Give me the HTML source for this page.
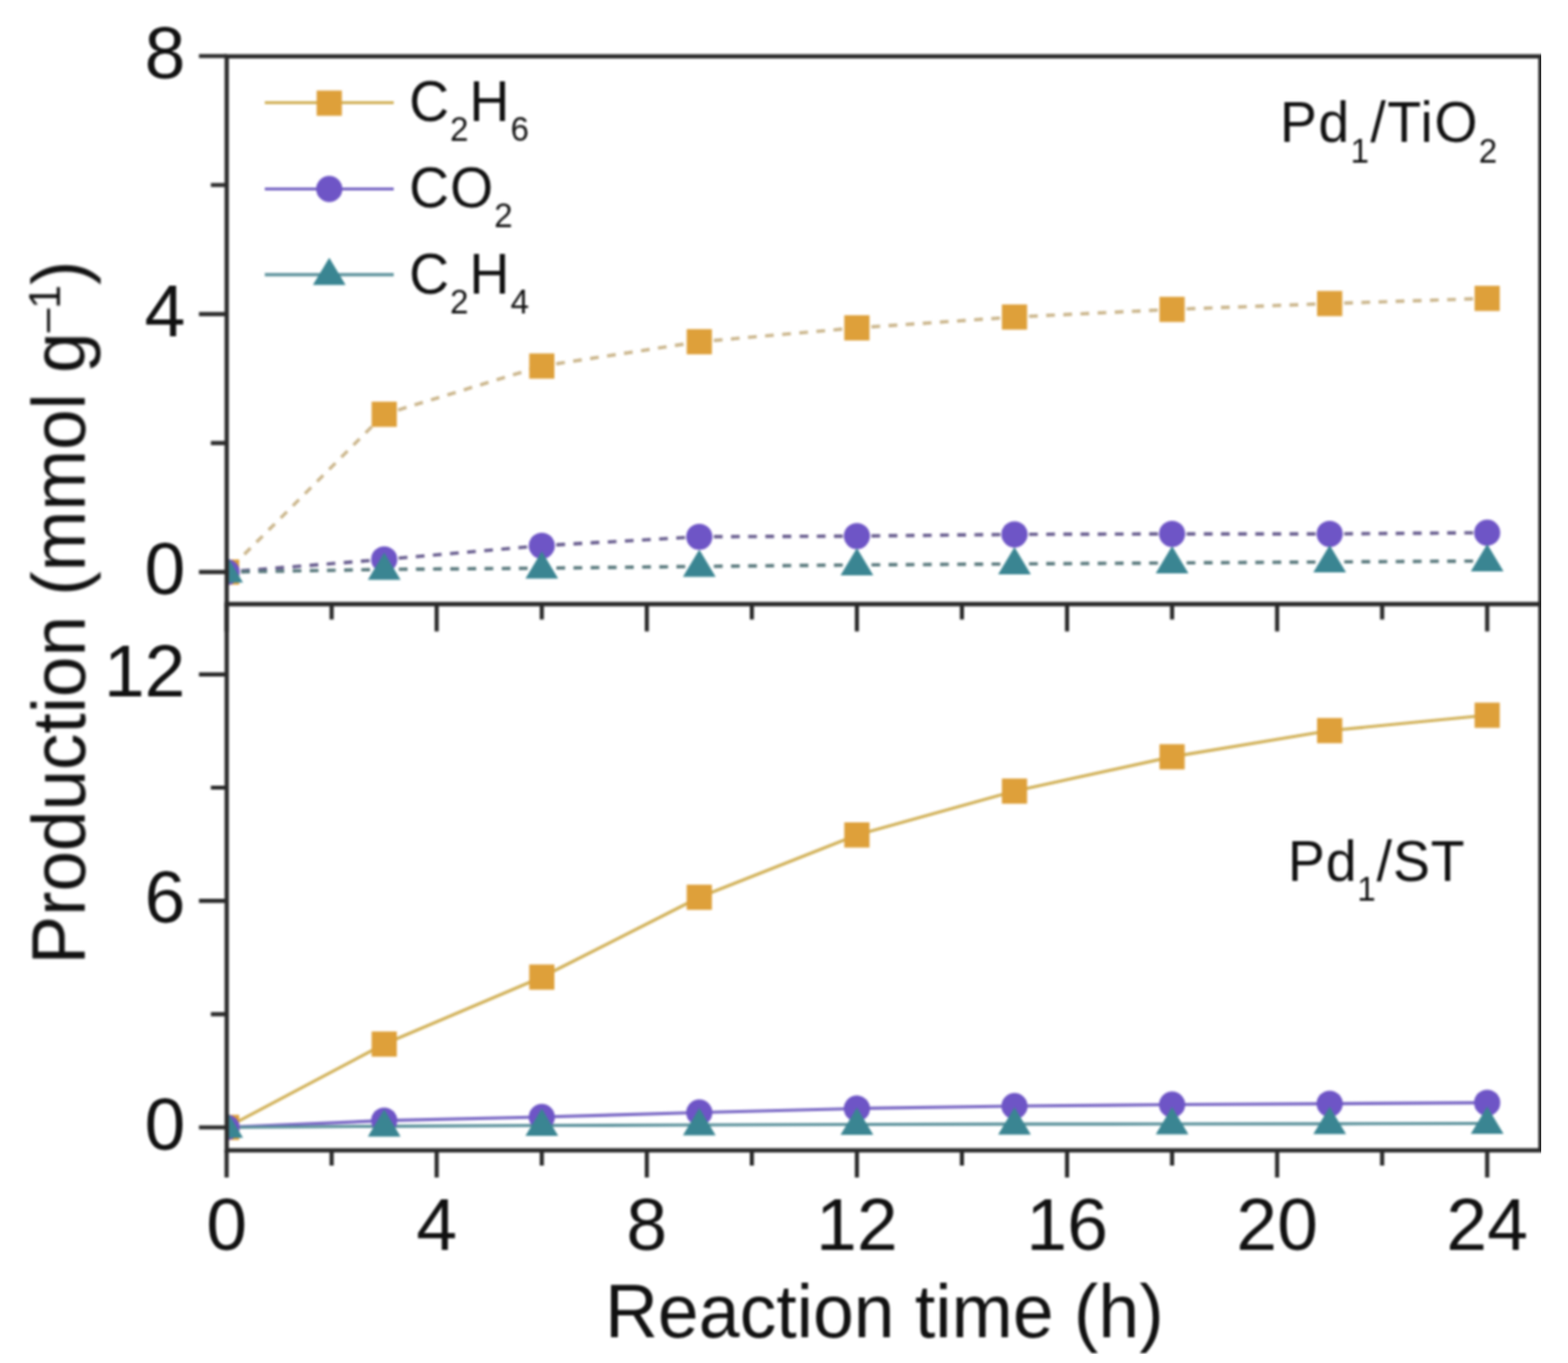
<!DOCTYPE html>
<html><head><meta charset="utf-8"><title>Production vs reaction time</title>
<style>
html,body{margin:0;padding:0;background:#fff;}
body{width:1581px;height:1374px;overflow:hidden;}
svg{display:block;}
text{font-family:"Liberation Sans",Arial,Helvetica,sans-serif;fill:#111;}
</style></head><body>
<svg width="1581" height="1374" viewBox="0 0 1581 1374">
<defs>
<filter id="soft" x="0" y="0" width="1" height="1" color-interpolation-filters="sRGB"><feGaussianBlur stdDeviation="0.8"/></filter>
<clipPath id="cu"><rect x="230.5" y="58" width="1320" height="549"/></clipPath>
<clipPath id="cl"><rect x="230.5" y="610" width="1320" height="547"/></clipPath>
</defs>
<rect width="1581" height="1374" fill="#fff"/>
<g filter="url(#soft)">

<g clip-path="url(#cu)">
<g stroke="#CBB68C" stroke-width="3.4" stroke-dasharray="8.8 8.5"><line x1="228.5" y1="576.7" x2="387.4" y2="417.6" stroke-dashoffset="9.3"/><line x1="387.4" y1="417.6" x2="546.3" y2="369" stroke-dashoffset="2.6"/><line x1="546.3" y1="369" x2="705.1" y2="344.5" stroke-dashoffset="2.6"/><line x1="705.1" y1="344.5" x2="864" y2="330.5" stroke-dashoffset="2.6"/><line x1="864" y1="330.5" x2="1022.9" y2="319.6" stroke-dashoffset="2.6"/><line x1="1022.9" y1="319.6" x2="1181.8" y2="311.9" stroke-dashoffset="2.6"/><line x1="1181.8" y1="311.9" x2="1340.7" y2="306" stroke-dashoffset="2.6"/><line x1="1340.7" y1="306" x2="1499.5" y2="300.8" stroke-dashoffset="2.6"/></g>
<g stroke="#675C8E" stroke-width="3.4" stroke-dasharray="8.8 8.5"><line x1="228.5" y1="576.7" x2="387.4" y2="563.9" stroke-dashoffset="2.6"/><line x1="387.4" y1="563.9" x2="546.3" y2="550.1" stroke-dashoffset="2.6"/><line x1="546.3" y1="550.1" x2="705.1" y2="541.1" stroke-dashoffset="2.6"/><line x1="705.1" y1="541.1" x2="864" y2="540.4" stroke-dashoffset="2.6"/><line x1="864" y1="540.4" x2="1022.9" y2="538.7" stroke-dashoffset="2.6"/><line x1="1022.9" y1="538.7" x2="1181.8" y2="538.2" stroke-dashoffset="2.6"/><line x1="1181.8" y1="538.2" x2="1340.7" y2="538.2" stroke-dashoffset="2.6"/><line x1="1340.7" y1="538.2" x2="1499.5" y2="537" stroke-dashoffset="2.6"/></g>
<g stroke="#58787C" stroke-width="3.4" stroke-dasharray="8.8 8.5"><line x1="228.5" y1="576.7" x2="387.4" y2="574" stroke-dashoffset="2.6"/><line x1="387.4" y1="574" x2="546.3" y2="572.8" stroke-dashoffset="2.6"/><line x1="546.3" y1="572.8" x2="705.1" y2="571" stroke-dashoffset="2.6"/><line x1="705.1" y1="571" x2="864" y2="569.5" stroke-dashoffset="2.6"/><line x1="864" y1="569.5" x2="1022.9" y2="568.5" stroke-dashoffset="2.6"/><line x1="1022.9" y1="568.5" x2="1181.8" y2="567.5" stroke-dashoffset="2.6"/><line x1="1181.8" y1="567.5" x2="1340.7" y2="566.5" stroke-dashoffset="2.6"/><line x1="1340.7" y1="566.5" x2="1499.5" y2="565.5" stroke-dashoffset="2.6"/></g>
<rect x="215.8" y="564" width="25.4" height="25.4" fill="#DEA03A"/>
<rect x="374.7" y="404.9" width="25.4" height="25.4" fill="#DEA03A"/>
<rect x="533.6" y="356.3" width="25.4" height="25.4" fill="#DEA03A"/>
<rect x="692.4" y="331.8" width="25.4" height="25.4" fill="#DEA03A"/>
<rect x="851.3" y="317.8" width="25.4" height="25.4" fill="#DEA03A"/>
<rect x="1010.2" y="306.9" width="25.4" height="25.4" fill="#DEA03A"/>
<rect x="1169.1" y="299.2" width="25.4" height="25.4" fill="#DEA03A"/>
<rect x="1328" y="293.3" width="25.4" height="25.4" fill="#DEA03A"/>
<rect x="1486.8" y="288.1" width="25.4" height="25.4" fill="#DEA03A"/>
<circle cx="228.5" cy="576.7" r="13.2" fill="#6E55C6"/>
<circle cx="387.4" cy="563.9" r="13.2" fill="#6E55C6"/>
<circle cx="546.3" cy="550.1" r="13.2" fill="#6E55C6"/>
<circle cx="705.1" cy="541.1" r="13.2" fill="#6E55C6"/>
<circle cx="864" cy="540.4" r="13.2" fill="#6E55C6"/>
<circle cx="1022.9" cy="538.7" r="13.2" fill="#6E55C6"/>
<circle cx="1181.8" cy="538.2" r="13.2" fill="#6E55C6"/>
<circle cx="1340.7" cy="538.2" r="13.2" fill="#6E55C6"/>
<circle cx="1499.5" cy="537" r="13.2" fill="#6E55C6"/>
<polygon points="228.5,559.7 245,587.2 212,587.2" fill="#3A8592"/>
<polygon points="387.4,557 403.9,584.5 370.9,584.5" fill="#3A8592"/>
<polygon points="546.3,555.8 562.8,583.3 529.8,583.3" fill="#3A8592"/>
<polygon points="705.1,554 721.6,581.5 688.6,581.5" fill="#3A8592"/>
<polygon points="864,552.5 880.5,580 847.5,580" fill="#3A8592"/>
<polygon points="1022.9,551.5 1039.4,579 1006.4,579" fill="#3A8592"/>
<polygon points="1181.8,550.5 1198.3,578 1165.3,578" fill="#3A8592"/>
<polygon points="1340.7,549.5 1357.2,577 1324.2,577" fill="#3A8592"/>
<polygon points="1499.5,548.5 1516,576 1483,576" fill="#3A8592"/>
</g>
<g clip-path="url(#cl)">
<polyline points="228.5,1136.5 387.4,1052.5 546.3,985 705.1,904.5 864,841.7 1022.9,797.5 1181.8,762.9 1340.7,736.5 1499.5,721" fill="none" stroke="#D2B25A" stroke-width="3.2" stroke-linejoin="round"/>
<polyline points="228.5,1136.5 387.4,1129.6 546.3,1126 705.1,1121.5 864,1117.5 1022.9,1115 1181.8,1113.5 1340.7,1112.6 1499.5,1111.7" fill="none" stroke="#7866C4" stroke-width="3.2" stroke-linejoin="round"/>
<polyline points="228.5,1136.5 387.4,1135.3 546.3,1134.5 705.1,1134 864,1133.5 1022.9,1133.2 1181.8,1133 1340.7,1132.8 1499.5,1132.5" fill="none" stroke="#5C929C" stroke-width="3.2" stroke-linejoin="round"/>
<rect x="215.8" y="1123.8" width="25.4" height="25.4" fill="#DEA03A"/>
<rect x="374.7" y="1039.8" width="25.4" height="25.4" fill="#DEA03A"/>
<rect x="533.6" y="972.3" width="25.4" height="25.4" fill="#DEA03A"/>
<rect x="692.4" y="891.8" width="25.4" height="25.4" fill="#DEA03A"/>
<rect x="851.3" y="829" width="25.4" height="25.4" fill="#DEA03A"/>
<rect x="1010.2" y="784.8" width="25.4" height="25.4" fill="#DEA03A"/>
<rect x="1169.1" y="750.2" width="25.4" height="25.4" fill="#DEA03A"/>
<rect x="1328" y="723.8" width="25.4" height="25.4" fill="#DEA03A"/>
<rect x="1486.8" y="708.3" width="25.4" height="25.4" fill="#DEA03A"/>
<circle cx="228.5" cy="1136.5" r="13.2" fill="#6E55C6"/>
<circle cx="387.4" cy="1129.6" r="13.2" fill="#6E55C6"/>
<circle cx="546.3" cy="1126" r="13.2" fill="#6E55C6"/>
<circle cx="705.1" cy="1121.5" r="13.2" fill="#6E55C6"/>
<circle cx="864" cy="1117.5" r="13.2" fill="#6E55C6"/>
<circle cx="1022.9" cy="1115" r="13.2" fill="#6E55C6"/>
<circle cx="1181.8" cy="1113.5" r="13.2" fill="#6E55C6"/>
<circle cx="1340.7" cy="1112.6" r="13.2" fill="#6E55C6"/>
<circle cx="1499.5" cy="1111.7" r="13.2" fill="#6E55C6"/>
<polygon points="228.5,1119.5 245,1147 212,1147" fill="#3A8592"/>
<polygon points="387.4,1118.3 403.9,1145.8 370.9,1145.8" fill="#3A8592"/>
<polygon points="546.3,1117.5 562.8,1145 529.8,1145" fill="#3A8592"/>
<polygon points="705.1,1117 721.6,1144.5 688.6,1144.5" fill="#3A8592"/>
<polygon points="864,1116.5 880.5,1144 847.5,1144" fill="#3A8592"/>
<polygon points="1022.9,1116.2 1039.4,1143.7 1006.4,1143.7" fill="#3A8592"/>
<polygon points="1181.8,1116 1198.3,1143.5 1165.3,1143.5" fill="#3A8592"/>
<polygon points="1340.7,1115.8 1357.2,1143.3 1324.2,1143.3" fill="#3A8592"/>
<polygon points="1499.5,1115.5 1516,1143 1483,1143" fill="#3A8592"/>
</g>
<g stroke="#2a2a2a" stroke-width="4.3" fill="none" stroke-linecap="square">
<rect x="228.6" y="56.8" width="1324.6" height="1102.8"/>
<line x1="228.6" y1="609.0" x2="1553.2" y2="609.0"/>
</g>
<path d="M200.6 576.7H228.6 M200.6 316.6H228.6 M200.6 56.5H228.6 M212.6 446.6H228.6 M212.6 186.5H228.6 M200.6 1136.5H228.6 M200.6 908.1H228.6 M200.6 679.8H228.6 M212.6 1022.3H228.6 M212.6 794H228.6 M228.5 1159.6V1187.1 M228.5 609V636.5 M440.3 1159.6V1187.1 M440.3 609V636.5 M652.2 1159.6V1187.1 M652.2 609V636.5 M864 1159.6V1187.1 M864 609V636.5 M1075.9 1159.6V1187.1 M1075.9 609V636.5 M1287.7 1159.6V1187.1 M1287.7 609V636.5 M1499.5 1159.6V1187.1 M1499.5 609V636.5 M334.4 1159.6V1175.1 M334.4 609V624.5 M546.3 1159.6V1175.1 M546.3 609V624.5 M758.1 1159.6V1175.1 M758.1 609V624.5 M969.9 1159.6V1175.1 M969.9 609V624.5 M1181.8 1159.6V1175.1 M1181.8 609V624.5 M1393.6 1159.6V1175.1 M1393.6 609V624.5" stroke="#2a2a2a" stroke-width="4.2" fill="none"/>
<g font-size="74" text-anchor="end">
<text x="187" y="78.8">8</text>
<text x="187" y="338.9">4</text>
<text x="187" y="599">0</text>
<text x="187" y="702.1">12</text>
<text x="187" y="930.4">6</text>
<text x="187" y="1158.8">0</text>
</g>
<g font-size="74" text-anchor="middle">
<text x="228.5" y="1259.5">0</text>
<text x="440.3" y="1259.5">4</text>
<text x="652.2" y="1259.5">8</text>
<text x="864" y="1259.5">12</text>
<text x="1075.9" y="1259.5">16</text>
<text x="1287.7" y="1259.5">20</text>
<text x="1499.5" y="1259.5">24</text>
</g>
<text transform="translate(891.6,1348) scale(1,1.02)" font-size="74" text-anchor="middle">Reaction time (h)</text>
<text transform="translate(85.5,617.5) rotate(-90) scale(1,1.03)" font-size="73.5" text-anchor="middle">Production (mmol g<tspan font-size="43" dy="-24">&#8211;1</tspan><tspan dy="24">)</tspan></text>
<line x1="267" y1="103.5" x2="397" y2="103.5" stroke="#D2B25A" stroke-width="3.2"/>
<rect x="319.3" y="91.3" width="25.4" height="25.4" fill="#DEA03A"/>
<line x1="267" y1="190.5" x2="397" y2="190.5" stroke="#7866C4" stroke-width="3.2"/>
<circle cx="332" cy="190.5" r="13.2" fill="#6E55C6"/>
<line x1="267" y1="276.8" x2="397" y2="276.8" stroke="#5C929C" stroke-width="3.2"/>
<polygon points="332,259.8 348.5,287.3 315.5,287.3" fill="#3A8592"/>
<text transform="translate(412.5,121.6) scale(1,1.03)" font-size="56" letter-spacing="0.9">C<tspan font-size="33.5" dy="20">2</tspan><tspan dy="-20">H</tspan><tspan font-size="33.5" dy="20">6</tspan></text>
<text transform="translate(412.5,208.6) scale(1,1.03)" font-size="56" letter-spacing="0.9">CO<tspan font-size="33.5" dy="20">2</tspan></text>
<text transform="translate(412.5,295.6) scale(1,1.03)" font-size="56" letter-spacing="0.9">C<tspan font-size="33.5" dy="20">2</tspan><tspan dy="-20">H</tspan><tspan font-size="33.5" dy="20">4</tspan></text>
<text transform="translate(1290.5,143.2) scale(1,1.03)" font-size="56" letter-spacing="1.4">Pd<tspan font-size="33.5" dy="20">1</tspan><tspan dy="-20">/TiO</tspan><tspan font-size="33.5" dy="20">2</tspan></text>
<text transform="translate(1298.5,888.4) scale(1,1.03)" font-size="56" letter-spacing="0.8">Pd<tspan font-size="33.5" dy="19">1</tspan><tspan dy="-19">/ST</tspan></text>
</g>
</svg>
</body></html>
